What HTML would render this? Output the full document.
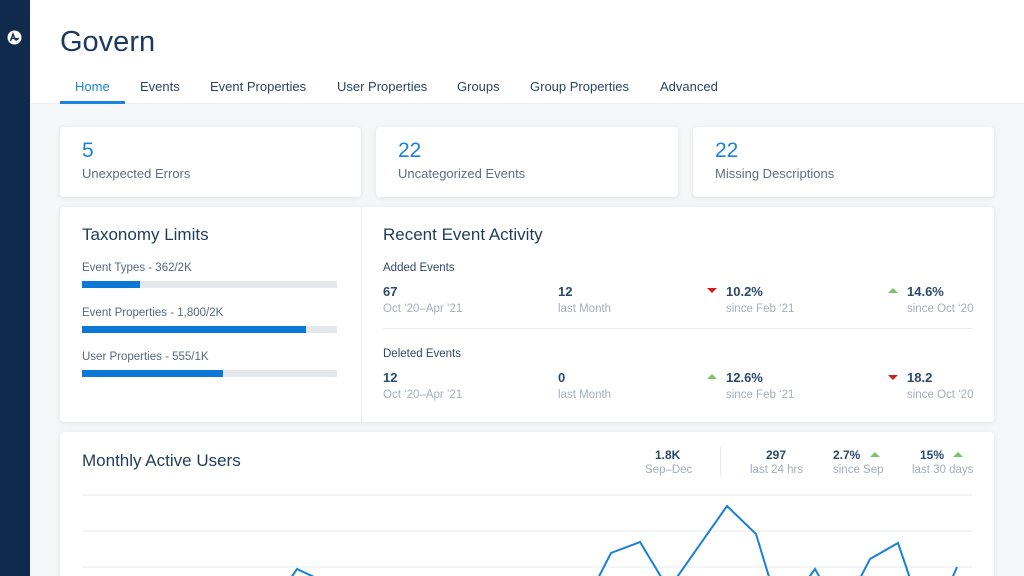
<!DOCTYPE html>
<html><head><meta charset="utf-8"><style>
*{margin:0;padding:0;box-sizing:border-box}
html,body{width:1024px;height:576px;overflow:hidden;background:#f5f6f8;font-family:"Liberation Sans",Arial,sans-serif}
#w{position:relative;width:1024px;height:576px;overflow:hidden}
.a{position:absolute;white-space:nowrap}
.side{position:absolute;left:0;top:0;width:30px;height:576px;background:#0f2a4c}
.head{position:absolute;left:30px;top:0;width:994px;height:104px;background:#fff;border-bottom:1px solid #eceef1}
.card{position:absolute;background:#fff;border-radius:4px;box-shadow:0 1px 5px rgba(30,50,80,0.10)}
.tab{font-size:13px;line-height:14px;color:#2b4563;top:80px}
.num{font-size:21px;line-height:21px;color:#1b84d8}
.lbl{font-size:13px;line-height:13px;color:#5d6f83}
.h2{font-size:17px;line-height:17px;color:#1f3c5d}
.sm{font-size:11.5px;line-height:12px;color:#56687d}
.bar{position:absolute;left:82px;width:255px;height:7px;background:#e4e7eb}
.bar i{position:absolute;left:0;top:0;height:7px;background:#0a78d4}
.v{font-size:13px;line-height:13px;font-weight:bold;color:#2a4a6c}
.s{font-size:11.5px;line-height:12px;color:#a4afbc}
.dn{position:absolute;width:0;height:0;border-left:5px solid transparent;border-right:5px solid transparent;border-top:5px solid #cf1c1c}
.up{position:absolute;width:0;height:0;border-left:5px solid transparent;border-right:5px solid transparent;border-bottom:5px solid #7cc36b}
.sv{font-size:12px;line-height:12px;font-weight:bold;color:#2a4a6c}
</style></head><body><div id="w">
<div class="side"></div>
<svg class="a" style="left:7px;top:30px" width="15" height="15" viewBox="0 0 15 15"><circle cx="7.5" cy="7.5" r="7" fill="#fff"/><path d="M3.5 11 L6 4 L8 9 Q9.5 11.5 11.5 8" stroke="#0f2a4c" stroke-width="1.4" fill="none"/><path d="M3.5 8.5 H11.5" stroke="#0f2a4c" stroke-width="1.2"/></svg>
<div class="head"></div>
<div class="a" style="left:60px;top:28px;font-size:29px;line-height:29px;color:#1d3a5c">Govern</div>
<div class="a tab" style="left:75px;color:#1b84d8">Home</div>
<div class="a" style="left:60px;top:101px;width:65px;height:3px;background:#1b84d8"></div>
<div class="a tab" style="left:140px">Events</div>
<div class="a tab" style="left:210px">Event Properties</div>
<div class="a tab" style="left:337px">User Properties</div>
<div class="a tab" style="left:457px">Groups</div>
<div class="a tab" style="left:530px">Group Properties</div>
<div class="a tab" style="left:660px">Advanced</div>

<div class="card" style="left:60px;top:127px;width:301px;height:70px"></div>
<div class="card" style="left:376px;top:127px;width:302px;height:70px"></div>
<div class="card" style="left:693px;top:127px;width:301px;height:70px"></div>
<div class="a num" style="left:82px;top:140px">5</div>
<div class="a lbl" style="left:82px;top:167px">Unexpected Errors</div>
<div class="a num" style="left:398px;top:140px">22</div>
<div class="a lbl" style="left:398px;top:167px">Uncategorized Events</div>
<div class="a num" style="left:715px;top:140px">22</div>
<div class="a lbl" style="left:715px;top:167px">Missing Descriptions</div>

<div class="card" style="left:60px;top:207px;width:934px;height:215px"></div>
<div class="a" style="left:361px;top:207px;width:1px;height:215px;background:#eceef1"></div>
<div class="a h2" style="left:82px;top:226px">Taxonomy Limits</div>
<div class="a sm" style="left:82px;top:262px">Event Types - 362/2K</div>
<div class="bar" style="top:281px"><i style="width:58px"></i></div>
<div class="a sm" style="left:82px;top:307px">Event Properties - 1,800/2K</div>
<div class="bar" style="top:326px"><i style="width:224px"></i></div>
<div class="a sm" style="left:82px;top:351px">User Properties - 555/1K</div>
<div class="bar" style="top:370px"><i style="width:141px"></i></div>

<div class="a h2" style="left:383px;top:226px">Recent Event Activity</div>
<div class="a sm" style="left:383px;top:262px;color:#2f4866">Added Events</div>
<div class="a v" style="left:383px;top:285px">67</div>
<div class="a s" style="left:383px;top:303px">Oct ‘20–Apr ’21</div>
<div class="a v" style="left:558px;top:285px">12</div>
<div class="a s" style="left:558px;top:303px">last Month</div>
<div class="dn" style="left:707px;top:288px"></div>
<div class="a v" style="left:726px;top:285px">10.2%</div>
<div class="a s" style="left:726px;top:303px">since Feb ‘21</div>
<div class="up" style="left:888px;top:288px"></div>
<div class="a v" style="left:907px;top:285px">14.6%</div>
<div class="a s" style="left:907px;top:303px">since Oct ‘20</div>
<div class="a" style="left:383px;top:328px;width:590px;height:1px;background:#eceef1"></div>
<div class="a sm" style="left:383px;top:348px;color:#2f4866">Deleted Events</div>
<div class="a v" style="left:383px;top:371px">12</div>
<div class="a s" style="left:383px;top:389px">Oct ‘20–Apr ’21</div>
<div class="a v" style="left:558px;top:371px">0</div>
<div class="a s" style="left:558px;top:389px">last Month</div>
<div class="up" style="left:707px;top:374px"></div>
<div class="a v" style="left:726px;top:371px">12.6%</div>
<div class="a s" style="left:726px;top:389px">since Feb ‘21</div>
<div class="dn" style="left:888px;top:375px"></div>
<div class="a v" style="left:907px;top:371px">18.2</div>
<div class="a s" style="left:907px;top:389px">since Oct ‘20</div>

<div class="card" style="left:60px;top:432px;width:934px;height:150px"></div>
<div class="a h2" style="left:82px;top:452px">Monthly Active Users</div>
<div class="a sv" style="left:655px;top:449px">1.8K</div>
<div class="a s" style="left:645px;top:464px">Sep–Dec</div>
<div class="a" style="left:720px;top:447px;width:1px;height:29px;background:#e6e9ed"></div>
<div class="a sv" style="left:766px;top:449px">297</div>
<div class="a s" style="left:750px;top:464px">last 24 hrs</div>
<div class="a sv" style="left:833px;top:449px">2.7%</div>
<div class="up" style="left:870px;top:452px"></div>
<div class="a s" style="left:833px;top:464px">since Sep</div>
<div class="a sv" style="left:920px;top:449px">15%</div>
<div class="up" style="left:953px;top:452px"></div>
<div class="a s" style="left:912px;top:464px">last 30 days</div>

<svg class="a" style="left:0;top:0" width="1024" height="576" viewBox="0 0 1024 576">
<g stroke="#eceef1" stroke-width="1.2">
<line x1="82" y1="495" x2="972" y2="495"/>
<line x1="82" y1="531" x2="972" y2="531"/>
<line x1="82" y1="567" x2="972" y2="567"/>
</g>
<polyline fill="none" stroke="#1a80d6" stroke-width="2" stroke-linejoin="miter" points="283,590 297,569 342,590 592,590 611,553 640,542 669,590 668,590 727,506 756,534 773,590 800,590 815,569 827,590 854,590 870,559 898,543 914,590 947,590 957,567"/>
</svg>
</div></body></html>
